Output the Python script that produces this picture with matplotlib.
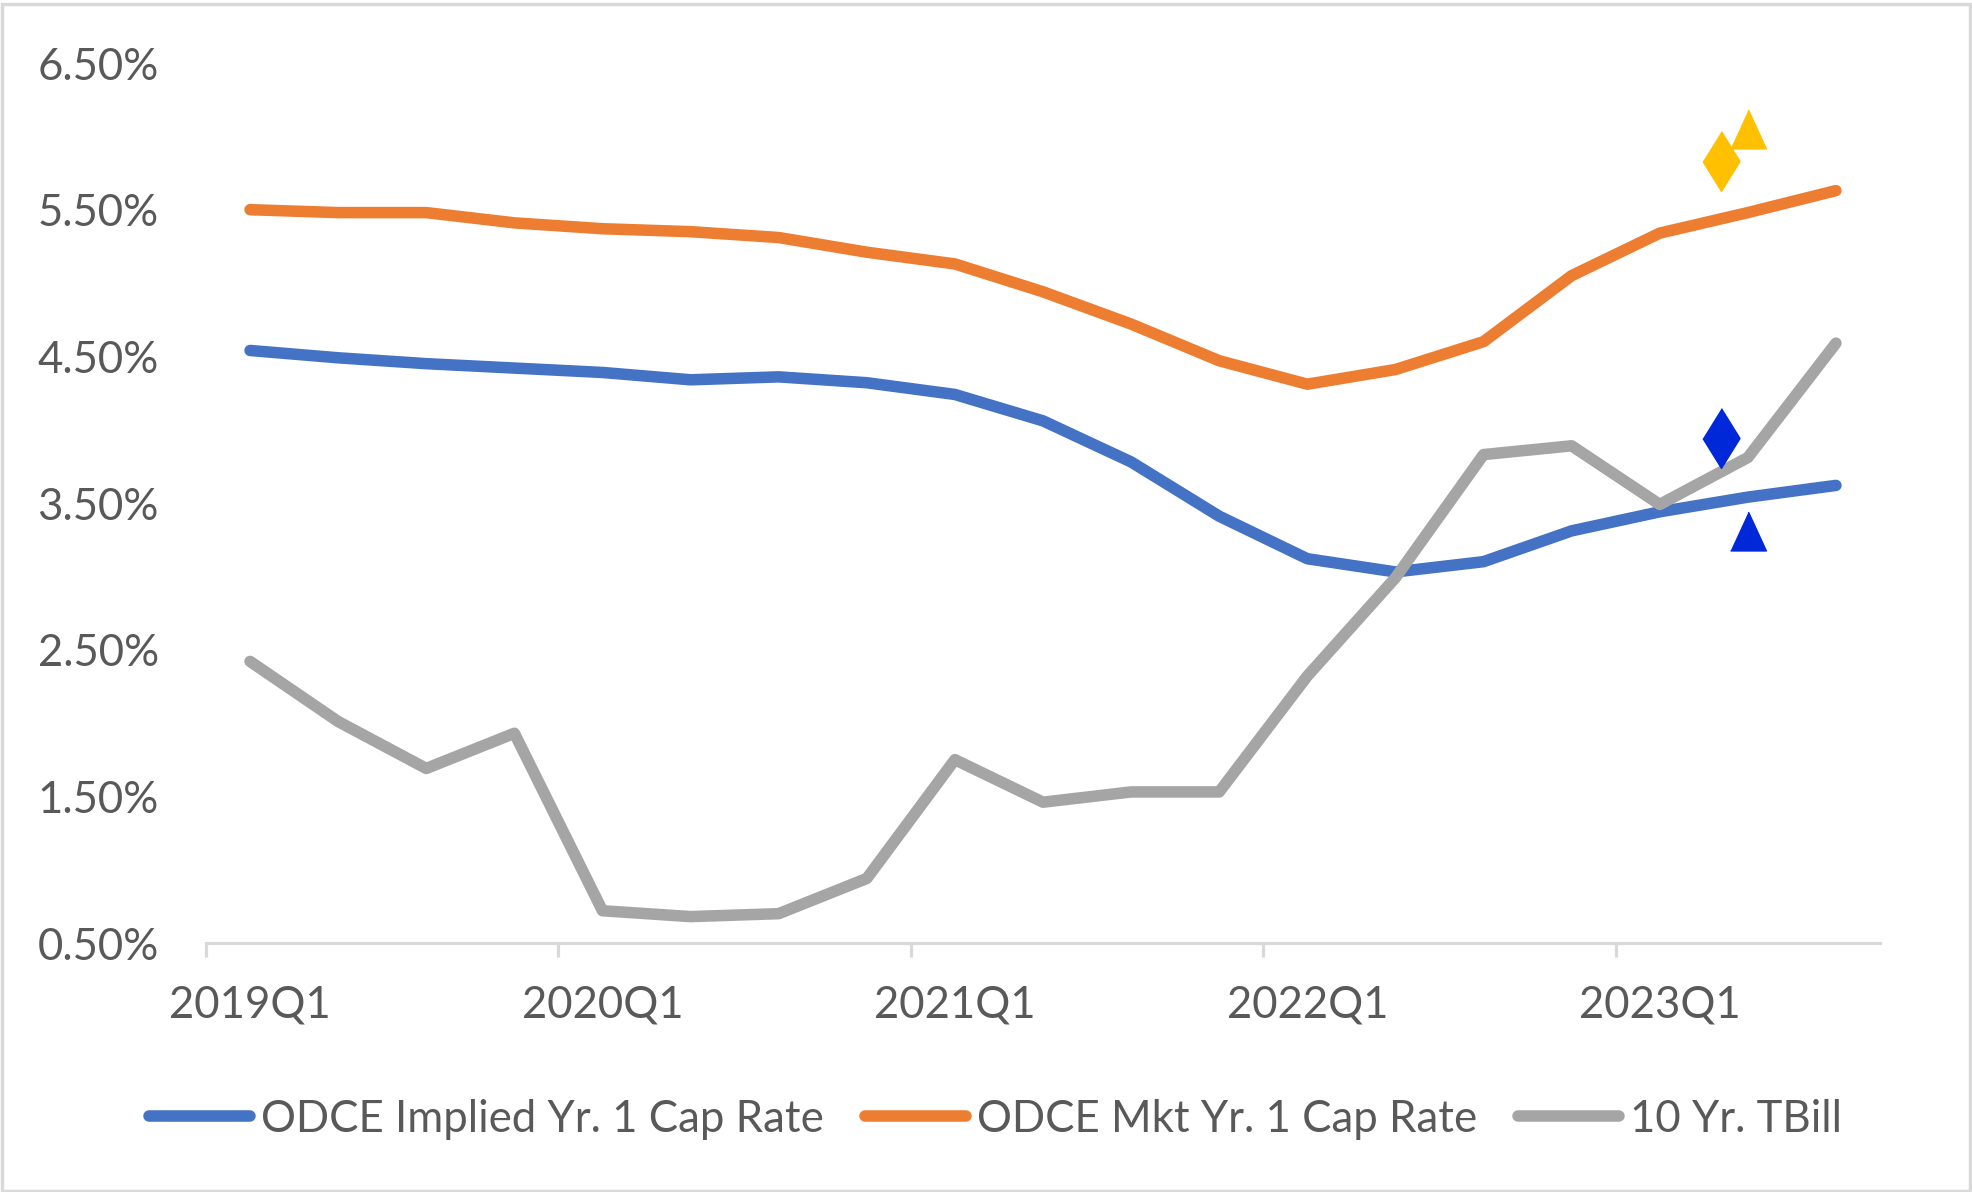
import matplotlib
matplotlib.use("Agg")
from matplotlib import pyplot as plt
from matplotlib.patches import Rectangle

# quarters on the category axis
quarters = ["2019Q1", "2019Q2", "2019Q3", "2019Q4",
            "2020Q1", "2020Q2", "2020Q3", "2020Q4",
            "2021Q1", "2021Q2", "2021Q3", "2021Q4",
            "2022Q1", "2022Q2", "2022Q3", "2022Q4",
            "2023Q1", "2023Q2", "2023Q3"]

# values in percent
implied_cap = [4.54, 4.49, 4.45, 4.42, 4.39, 4.34, 4.36, 4.32, 4.24, 4.06,
               3.78, 3.41, 3.12, 3.03, 3.10, 3.31, 3.44, 3.54, 3.62]
mkt_cap = [5.50, 5.48, 5.48, 5.41, 5.37, 5.35, 5.31, 5.21, 5.13, 4.94,
           4.72, 4.47, 4.31, 4.41, 4.60, 5.05, 5.34, 5.48, 5.63]
tbill = [2.42, 2.01, 1.69, 1.93, 0.72, 0.68, 0.70, 0.94, 1.75, 1.46,
         1.53, 1.53, 2.32, 2.99, 3.83, 3.89, 3.49, 3.81, 4.59]

# extra point markers (x in category units)
diamond_x = [16.7, 16.7]
diamond_y = [5.83, 3.94]
triangle_x = [17.0, 17.0]
triangle_y = [6.05, 3.31]
marker_colors = ["#FFC000", "#0028D8"]

y_ticks = [0.5, 1.5, 2.5, 3.5, 4.5, 5.5, 6.5]

TEXT = "#595959"
GRID = "#D9D9D9"
FS = 31.5
plt.rcParams["font.family"] = ["Lato", "DejaVu Sans"]

fig = plt.figure(figsize=(19.72, 11.92), dpi=100)
ax = fig.add_axes([206 / 1972, 1 - 943 / 1192, (1880 - 206) / 1972, 880 / 1192])

x = list(range(len(quarters)))
series = [(implied_cap, "#4472C4", "ODCE Implied Yr. 1 Cap Rate"),
          (mkt_cap, "#ED7D31", "ODCE Mkt Yr. 1 Cap Rate"),
          (tbill, "#A5A5A5", "10 Yr. TBill")]
for vals, col, lab in series:
    ax.plot(x, vals, color=col, lw=8.3, label=lab,
            solid_capstyle="round", solid_joinstyle="round")

diamond = [(0, 1), (0.62, 0), (0, -1), (-0.62, 0)]
triangle = [(-0.92, -1), (0.92, -1), (0, 1)]
for i in range(2):
    ax.plot(diamond_x[i], diamond_y[i], marker=diamond, ms=43,
            color=marker_colors[i], ls="none")
    ax.plot(triangle_x[i], triangle_y[i], marker=triangle, ms=28,
            color=marker_colors[i], ls="none")

ax.set_xlim(-0.5, len(quarters) - 0.5)
ax.set_ylim(0.5, 6.5)

for s in ["top", "right", "left"]:
    ax.spines[s].set_visible(False)
ax.spines["bottom"].set_color(GRID)
ax.spines["bottom"].set_linewidth(2.3)

ax.set_yticks(y_ticks)
ax.set_yticklabels([f"{v:.2f}%" for v in y_ticks])
ax.tick_params(axis="y", length=0, pad=34, labelsize=FS, labelcolor=TEXT)

# tick marks at category boundaries, labels at category centres
ax.set_xticks([-0.5, 3.5, 7.5, 11.5, 15.5])
ax.set_xticklabels([])
ax.tick_params(axis="x", which="major", length=10, width=2.3, color=GRID)
ax.set_xticks(x[::4], minor=True)
ax.set_xticklabels(quarters[::4], minor=True)
ax.tick_params(axis="x", which="minor", length=0, pad=30, labelsize=FS,
               labelcolor=TEXT)

leg = fig.legend(loc="center", bbox_to_anchor=(0.5048, 1 - 1119 / 1192),
                 ncol=3, frameon=False, fontsize=FS, handlelength=2.3,
                 handletextpad=0.25, columnspacing=0.95)
for t in leg.get_texts():
    t.set_color(TEXT)

fig.patches.append(Rectangle((0.001, 0.001), 0.998, 0.996, transform=fig.transFigure,
                             fill=False, edgecolor=GRID, lw=2.5))

fig.savefig("out.png", dpi=100)
